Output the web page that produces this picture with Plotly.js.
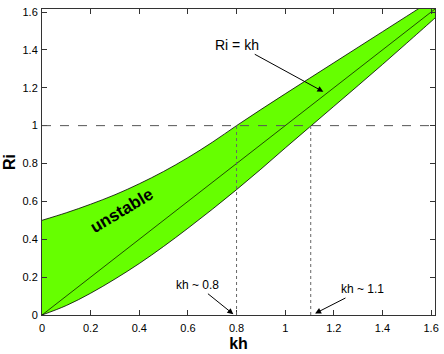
<!DOCTYPE html>
<html>
<head>
<meta charset="utf-8">
<script src="https://cdn.plot.ly/plotly-3.0.1.min.js"></script>
<style>
  html, body { margin: 0; padding: 0; background: #fff; }
  #grafico { width: 444px; height: 354px; }
</style>
</head>
<body>
<div id="grafico"></div>
<script>
// valores
var kh = [0, 0.1, 0.2, 0.3, 0.4, 0.5, 0.6, 0.7, 0.8, 0.9, 1.0, 1.1, 1.2, 1.3, 1.4, 1.5, 1.6, 1.62];
var riSuperior = [0.50, 0.54, 0.585, 0.635, 0.693, 0.758, 0.831, 0.912, 1.00, 1.085, 1.168, 1.25, 1.332, 1.414, 1.496, 1.578, 1.66, 1.676];
var riInferior = [0, 0.05, 0.115, 0.19, 0.272, 0.362, 0.458, 0.558, 0.662, 0.77, 0.882, 0.992, 1.102, 1.212, 1.323, 1.436, 1.55, 1.573];
var lineaKh = [0, 1.62];
var lineaRi = [0, 1.62];
var corteKh = [0.8, 1.105];   // donde las curvas cortan Ri = 1
var riCorte = 1;

var fuente = "Liberation Sans, Arial, Helvetica, sans-serif";
var verde = "#66ff00";

var data = [
  {
    x: kh, y: riInferior, mode: "lines", type: "scatter",
    line: { color: "#000", width: 0.8, shape: "spline", smoothing: 1 }, hoverinfo: "skip"
  },
  {
    x: kh, y: riSuperior, mode: "lines", type: "scatter",
    fill: "tonexty", fillcolor: verde,
    line: { color: "#000", width: 0.8, shape: "spline", smoothing: 1 }, hoverinfo: "skip"
  },
  {
    x: lineaKh, y: lineaRi, mode: "lines", type: "scatter",
    line: { color: "#000", width: 0.7 }, hoverinfo: "skip"
  }
];

// lineas de referencia
var formas = [{
  type: "line", xref: "paper", yref: "y", x0: 0, x1: 1, y0: riCorte, y1: riCorte,
  line: { color: "#555", width: 1, dash: "dash" }
}];
corteKh.forEach(function (k) {
  formas.push({
    type: "line", xref: "x", yref: "y", x0: k, x1: k, y0: 0, y1: riCorte,
    line: { color: "#666", width: 1, dash: "dot" }
  });
});

var notas = [
  {
    x: 1.157, y: 1.179, xref: "x", yref: "y", text: "Ri = kh",
    showarrow: true, ax: -86, ay: -47, arrowhead: 2, arrowsize: 1.2, arrowwidth: 1,
    arrowcolor: "#000", font: { family: fuente, size: 14, color: "#000" }
  },
  {
    x: 0.787, y: 0.004, xref: "x", yref: "y", text: "kh ~ 0.8",
    showarrow: true, ax: -36, ay: -29, arrowhead: 2, arrowsize: 1.2, arrowwidth: 1,
    arrowcolor: "#000", font: { family: fuente, size: 12, color: "#000" }
  },
  {
    x: 1.123, y: 0.008, xref: "x", yref: "y", text: "kh ~ 1.1",
    showarrow: true, ax: 47, ay: -24, arrowhead: 2, arrowsize: 1.2, arrowwidth: 1,
    arrowcolor: "#000", font: { family: fuente, size: 12, color: "#000" }
  },
  {
    x: 0.33, y: 0.55, xref: "x", yref: "y", text: "<b>unstable</b>",
    showarrow: false, textangle: -31,
    font: { family: fuente, size: 17, color: "#000" }
  }
];

var ejeComun = {
  ticks: "inside", ticklen: 5, tickwidth: 1, tickcolor: "#333",
  showline: true, linecolor: "#333", linewidth: 1, mirror: "ticks",
  showgrid: false, zeroline: false, dtick: 0.2, tick0: 0,
  tickfont: { family: fuente, size: 11, color: "#000" }
};

var layout = {
  width: 444, height: 354,
  margin: { l: 42, r: 9, t: 9, b: 39 },
  paper_bgcolor: "#fff", plot_bgcolor: "#fff",
  showlegend: false,
  xaxis: Object.assign({}, ejeComun, {
    range: [0, 1.616], ticklabelstandoff: 3,
    title: { text: "<b>kh</b>", standoff: 4, font: { family: fuente, size: 16, color: "#000" } }
  }),
  yaxis: Object.assign({}, ejeComun, {
    range: [0, 1.616], ticklabelstandoff: 1,
    title: { text: "<b>Ri</b>", standoff: 2, font: { family: fuente, size: 16, color: "#000" } }
  }),
  shapes: formas,
  annotations: notas
};

Plotly.newPlot("grafico", data, layout, { staticPlot: true, displayModeBar: false });
</script>
</body>
</html>
